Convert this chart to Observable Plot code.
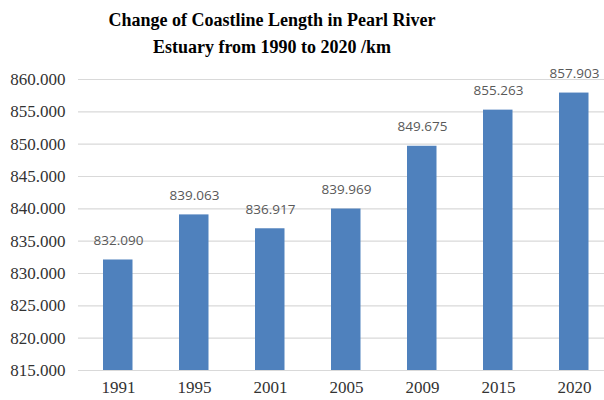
<!DOCTYPE html>
<html>
<head>
<meta charset="utf-8">
<script src="https://cdn.jsdelivr.net/npm/d3@7"></script>
<script src="https://cdn.jsdelivr.net/npm/@observablehq/plot@0.6"></script>
<style>
  html, body { margin: 0; padding: 0; background: #fff; }
  #title {
    width: 544px; height: 62px; box-sizing: border-box; padding-top: 7px;
    text-align: center; font-family: "Liberation Serif", "Times New Roman", serif;
    font-weight: bold; font-size: 18px; line-height: 27px; color: #000;
  }
  #chart svg { display: block; }
</style>
</head>
<body>
<div id="title">Change of Coastline Length in Pearl River<br>Estuary from 1990 to 2020 /km</div>
<div id="chart"></div>
<script>
const years = ["1991", "1995", "2001", "2005", "2009", "2015", "2020"];
const lengths = [832.090, 839.063, 836.917, 839.969, 849.675, 855.263, 857.903];
const yTicks = [815, 820, 825, 830, 835, 840, 845, 850, 855, 860];

const data = years.map((year, i) => ({year, length: lengths[i]}));
const serif = "Liberation Serif, Times New Roman, serif";

const chart = Plot.plot({
  width: 604,
  height: 338,
  marginLeft: 78,
  marginRight: 0,
  marginTop: 17,
  marginBottom: 30,
  style: {fontFamily: serif, fontSize: "17px", color: "#333", background: "#fff"},
  x: {type: "band", domain: years, range: [77.6, 614.5], padding: 0, label: null},
  y: {domain: [815, 860], label: null},
  marks: [
    Plot.gridY(yTicks, {stroke: "#d9d9d9", strokeOpacity: 1, strokeWidth: 1.2}),
    Plot.axisY(yTicks, {tickSize: 0, tickPadding: 13, tickFormat: d3.format(".3f"), fontSize: 17, fontFamily: serif, fill: "#333", label: null}),
    Plot.axisX({tickSize: 0, tickPadding: 10, fontSize: 17, fontFamily: serif, fill: "#333", label: null}),
    Plot.rectY(data, {x: "year", y1: 815, y2: "length", fill: "#4f81bd", insetLeft: 23, insetRight: 23.5}),
    Plot.text(data, {x: "year", y: "length", text: d => d.length.toFixed(3), dy: -15, lineAnchor: "bottom",
      fill: "#595959", fontSize: 13.5, fontFamily: "Open Sans, DejaVu Sans, sans-serif"})
  ]
});
document.getElementById("chart").append(chart);
</script>
</body>
</html>
